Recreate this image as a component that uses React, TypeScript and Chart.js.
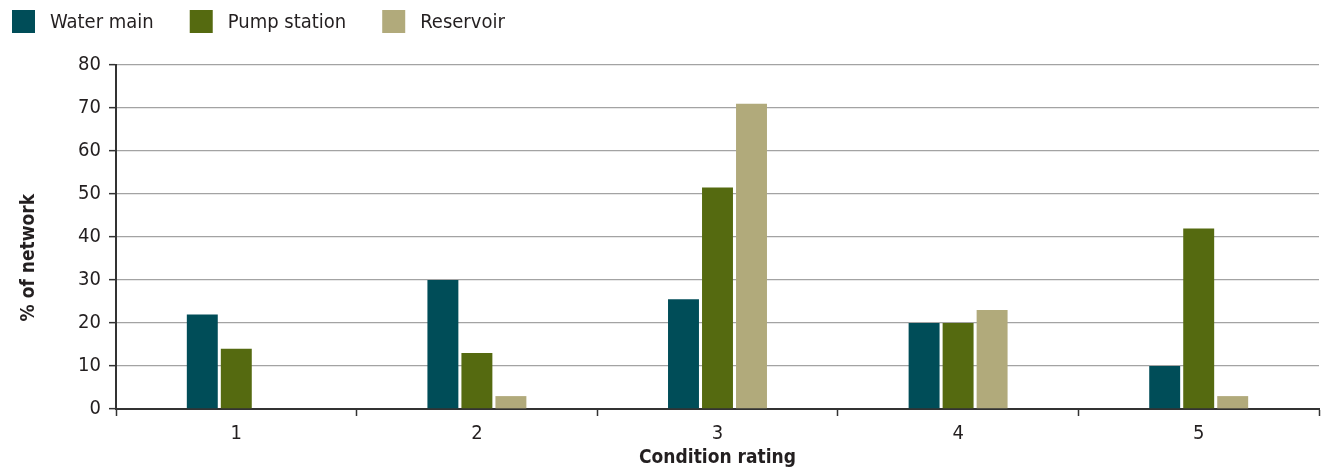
import React, { useEffect, useRef } from "react";
import { Chart, registerables } from "chart.js";

Chart.register(...registerables);

// Condition ratings (1 = very good ... 5 = very poor)
const categories = ["1", "2", "3", "4", "5"];

// Share of each asset type in each condition rating, %
const waterMain = [22, 30, 25.5, 20, 10];
const pumpStation = [14, 13, 51.5, 20, 42];
const reservoir = [0, 3, 71, 23, 3];

const seriesNames = ["Water main", "Pump station", "Reservoir"];
const seriesColors = ["#004d58", "#556a10", "#b1aa7b"];

const yMin = 0;
const yMax = 80;
const yStep = 10;

const xTitle = "Condition rating";
const yTitle = "% of network";

const FONT = "'DejaVu Sans Condensed', 'DejaVu Sans', sans-serif";
const TEXT = "#231f20";
const AXIS = "#333333";
const GRID = "#a3a3a3";

// Legend drawn as a single row of square swatches across the top left
const topLegend = {
  id: "topLegend",
  afterDraw(chart: any) {
    const ctx = chart.ctx;
    const box = 23;
    const y = 10;
    let x = 12;
    ctx.save();
    ctx.font = `20px ${FONT}`;
    ctx.textBaseline = "middle";
    ctx.textAlign = "left";
    chart.data.datasets.forEach((ds: any) => {
      ctx.fillStyle = ds.backgroundColor;
      ctx.fillRect(x, y, box, box);
      ctx.fillStyle = TEXT;
      ctx.fillText(ds.label, x + box + 15, y + box / 2 + 1);
      x += box + 15 + ctx.measureText(ds.label).width + 36;
    });
    ctx.restore();
  },
};

// Vertical axis title, set a little below the middle of the plot
const sideTitle = {
  id: "sideTitle",
  afterDraw(chart: any) {
    const ctx = chart.ctx;
    const area = chart.chartArea;
    ctx.save();
    ctx.translate(29, area.top + (area.bottom - area.top) * 0.56);
    ctx.rotate(-Math.PI / 2);
    ctx.font = `bold 19px ${FONT}`;
    ctx.fillStyle = TEXT;
    ctx.textAlign = "center";
    ctx.textBaseline = "middle";
    ctx.fillText(yTitle, 0, 0);
    ctx.restore();
  },
};

export default function App() {
  const canvasRef = useRef<HTMLCanvasElement | null>(null);

  useEffect(() => {
    document.body.style.margin = "0";
    const canvas = canvasRef.current;
    if (!canvas) return;

    const values = [waterMain, pumpStation, reservoir];
    const chart = new Chart(canvas, {
      type: "bar",
      data: {
        labels: categories,
        datasets: values.map((data, i) => ({
          label: seriesNames[i],
          data,
          backgroundColor: seriesColors[i],
          borderWidth: 0,
          categoryPercentage: 0.424,
          barPercentage: 0.91,
        })),
      },
      plugins: [topLegend, sideTitle],
      options: {
        responsive: false,
        animation: false,
        devicePixelRatio: 1,
        layout: { padding: { top: 65, right: 9, bottom: 0, left: 0 } },
        plugins: {
          legend: { display: false },
          tooltip: { enabled: false },
        },
        scales: {
          x: {
            offset: true,
            grid: {
              offset: true,
              drawOnChartArea: false,
              drawTicks: true,
              tickLength: 7,
              tickColor: AXIS,
              tickWidth: 1.5,
            },
            border: { display: true, color: AXIS, width: 2 },
            ticks: {
              color: TEXT,
              font: { family: FONT, size: 20 },
              padding: 6,
            },
            title: {
              display: true,
              text: xTitle,
              color: TEXT,
              font: { family: FONT, size: 19, weight: "bold" },
              padding: { top: 0, bottom: 3 },
            },
            afterFit: (s: any) => {
              s.height = 63;
            },
          },
          y: {
            min: yMin,
            max: yMax,
            ticks: {
              stepSize: yStep,
              color: TEXT,
              font: { family: FONT, size: 20 },
              padding: 8,
            },
            grid: {
              color: GRID,
              lineWidth: 1.3,
              drawTicks: true,
              tickLength: 7,
              tickColor: AXIS,
              tickWidth: 1.5,
            },
            border: { display: true, color: AXIS, width: 2 },
            title: { display: false },
            afterFit: (s: any) => {
              s.width = 116;
            },
          },
        },
      },
    });

    return () => chart.destroy();
  }, []);

  return (
    <div style={{ width: 1328, height: 472, background: "#ffffff" }}>
      <canvas ref={canvasRef} width={1328} height={472} />
    </div>
  );
}
